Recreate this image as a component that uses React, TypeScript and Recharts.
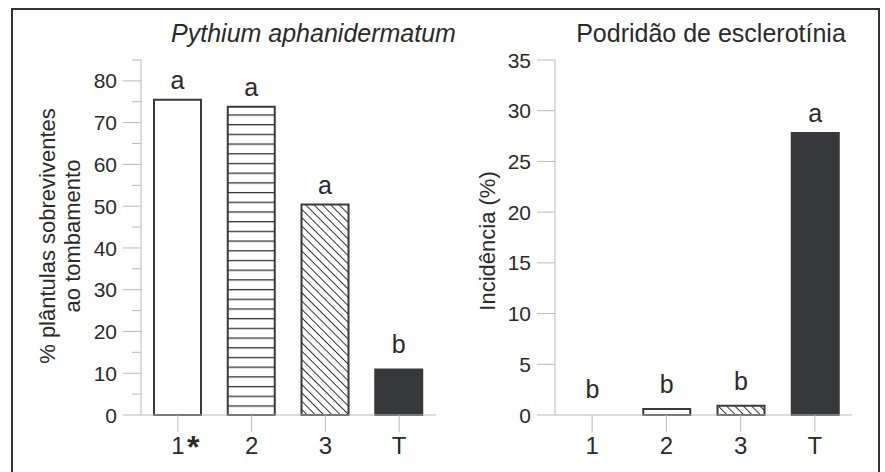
import React from 'react';
import { BarChart, Bar, XAxis, YAxis, Cell, LabelList, Label } from 'recharts';

// ---------- data ----------
const pythiumCategories = ['1*', '2', '3', 'T'];
const pythiumValues = [75.5, 73.8, 50.4, 10.9];
const pythiumLetters = ['a', 'a', 'a', 'b'];
const pythiumTicks = [0, 5, 10, 15, 20, 25, 30, 35, 40, 45, 50, 55, 60, 65, 70, 75, 80, 85];

const scleroCategories = ['1', '2', '3', 'T'];
const scleroValues = [0, 0.6, 0.9, 27.8];
const scleroLetters = ['b', 'b', 'b', 'a'];
const scleroTicks = [0, 5, 10, 15, 20, 25, 30, 35];

const pythiumData = pythiumCategories.map((c, i) => ({ cat: c, value: pythiumValues[i], letter: pythiumLetters[i] }));
const scleroData = scleroCategories.map((c, i) => ({ cat: c, value: scleroValues[i], letter: scleroLetters[i] }));

// ---------- styles ----------
const FONT = '"Liberation Sans", Arial, Helvetica, sans-serif';
const TEXT = '#2a2a2a';
const AXIS = '#b9b9b9';
const BAR_STROKE = '#3a3a3a';
const DARK = '#37383c';
const pythiumFills = ['#ffffff', 'url(#hl1)', 'url(#hatch1)', DARK];
const scleroFills = ['#ffffff', '#ffffff', 'url(#hatch2)', DARK];

const makeYTick = (axisX: number, withMinor: boolean) => (props: any) => {
  const { y, payload } = props;
  const v = payload.value;
  const major = !withMinor || v % 10 === 0;
  return (
    <g>
      <line x1={axisX - (major ? 18 : 9)} x2={axisX} y1={y} y2={y} stroke={AXIS} strokeWidth={1} />
      {major && (
        <text x={axisX - 24} y={y} dy="0.36em" textAnchor="end" fontSize={21} fill={TEXT} fontFamily={FONT}>
          {v}
        </text>
      )}
    </g>
  );
};

const XTick = (props: any) => {
  const { x, y, payload } = props;
  const label: string = String(payload.value);
  if (label.endsWith('*')) {
    return (
      <g>
        <text x={x} y={y} dy="0.71em" textAnchor="middle" fontSize={24} fill={TEXT} fontFamily={FONT}>
          {label.slice(0, -1)}
        </text>
        <text x={x + 9} y={y} dy={21} textAnchor="start" fontSize={32} fontWeight="bold" fill={TEXT} fontFamily={FONT}>
          *
        </text>
      </g>
    );
  }
  return (
    <text x={x} y={y} dy="0.71em" textAnchor="middle" fontSize={24} fill={TEXT} fontFamily={FONT}>
      {label}
    </text>
  );
};

const LetterLabel = (props: any) => {
  const { x, y, width, value } = props;
  const off = value === 'b' ? 16 : 11;
  return (
    <text x={x + width / 2} y={y - off} textAnchor="middle" fontSize={25} fill={TEXT} fontFamily={FONT}>
      {value}
    </text>
  );
};

const PythiumYLabel = () => (
  <text transform="translate(55,236) rotate(-90)" textAnchor="middle" fontSize={22} fill={TEXT} fontFamily={FONT}>
    <tspan x={0} dy={0}>% plântulas sobreviventes</tspan>
    <tspan x={0} dy={25}>ao tombamento</tspan>
  </text>
);

const ScleroYLabel = () => (
  <text transform="translate(50,241) rotate(-90)" textAnchor="middle" fontSize={22} fill={TEXT} fontFamily={FONT}>
    Incidência (%)
  </text>
);

export default function App() {
  return (
    <div style={{ position: 'absolute', left: 0, top: 0, width: 885, height: 472, background: '#fff', overflow: 'hidden' }}>
      <div
        style={{
          position: 'absolute',
          left: 11,
          top: 8,
          width: 869,
          height: 480,
          border: '2px solid #333',
          boxSizing: 'border-box',
        }}
      />
      <div style={{ position: 'absolute', left: 0, top: 0 }}>
        <BarChart width={445} height={472} data={pythiumData} margin={{ top: 60, right: 9, left: 20, bottom: 0 }}>
          <defs>
            <pattern id="hl1" patternUnits="userSpaceOnUse" width={10} height={9.7} y={8.3 - 0.65}>
              <rect x={0} y={0} width={10} height={9.7} fill="#fff" />
              <line x1={0} x2={10} y1={0.65} y2={0.65} stroke="#333" strokeWidth={1.3} />
            </pattern>
            <pattern id="hatch1" patternUnits="userSpaceOnUse" width={5.9} height={5.9} patternTransform="rotate(-45)">
              <rect x={0} y={0} width={5.9} height={5.9} fill="#fff" />
              <line x1={0.5} x2={0.5} y1={0} y2={5.9} stroke="#333" strokeWidth={1} />
            </pattern>
          </defs>
          <XAxis
            dataKey="cat"
            tickSize={17}
            tickMargin={5}
            tickLine={{ stroke: AXIS }}
            axisLine={{ stroke: AXIS }}
            tick={<XTick />}
            height={57}
            interval={0}
          />
          <XAxis xAxisId="top" dataKey="cat" orientation="top" height={0} tick={false} tickLine={false} axisLine={{ stroke: AXIS }} />
          <YAxis
            domain={[0, 85]}
            ticks={pythiumTicks}
            tickLine={false}
            axisLine={{ stroke: AXIS }}
            tick={makeYTick(141, true)}
            width={121}
            interval={0}
          >
            <Label content={<PythiumYLabel />} />
          </YAxis>
          <YAxis yAxisId="frame" orientation="right" domain={[0, 85]} tick={false} tickLine={false} width={0} axisLine={{ stroke: AXIS }} />
          <Bar dataKey="value" barSize={47} stroke={BAR_STROKE} strokeWidth={2} isAnimationActive={false}>
            {pythiumData.map((d, i) => (
              <Cell key={d.cat} fill={pythiumFills[i]} />
            ))}
          </Bar>
          <Bar xAxisId="top" dataKey="value" barSize={47} fill="none" stroke="none" minPointSize={1} isAnimationActive={false}>
            <LabelList dataKey="letter" content={<LetterLabel />} />
          </Bar>
        </BarChart>
      </div>
      <div style={{ position: 'absolute', left: 445, top: 0 }}>
        <BarChart width={440} height={472} data={scleroData} margin={{ top: 60, right: 33, left: 20, bottom: 0 }}>
          <defs>
            <pattern id="hatch2" patternUnits="userSpaceOnUse" width={5.9} height={5.9} patternTransform="rotate(-45)">
              <rect x={0} y={0} width={5.9} height={5.9} fill="#fff" />
              <line x1={0.5} x2={0.5} y1={0} y2={5.9} stroke="#333" strokeWidth={1} />
            </pattern>
          </defs>
          <XAxis
            dataKey="cat"
            tickSize={17}
            tickMargin={5}
            tickLine={{ stroke: AXIS }}
            axisLine={{ stroke: AXIS }}
            tick={<XTick />}
            height={57}
            interval={0}
          />
          <XAxis xAxisId="top" dataKey="cat" orientation="top" height={0} tick={false} tickLine={false} axisLine={{ stroke: AXIS }} />
          <YAxis
            domain={[0, 35]}
            ticks={scleroTicks}
            tickLine={false}
            axisLine={{ stroke: AXIS }}
            tick={makeYTick(110, false)}
            width={90}
            interval={0}
          >
            <Label content={<ScleroYLabel />} />
          </YAxis>
          <YAxis yAxisId="frame" orientation="right" domain={[0, 35]} tick={false} tickLine={false} width={0} axisLine={{ stroke: AXIS }} />
          <Bar dataKey="value" barSize={47} stroke={BAR_STROKE} strokeWidth={2} isAnimationActive={false}>
            {scleroData.map((d, i) => (
              <Cell key={d.cat} fill={scleroFills[i]} />
            ))}
          </Bar>
          <Bar xAxisId="top" dataKey="value" barSize={47} fill="none" stroke="none" minPointSize={1} isAnimationActive={false}>
            <LabelList dataKey="letter" content={<LetterLabel />} />
          </Bar>
        </BarChart>
      </div>
      <svg width={885} height={472} style={{ position: 'absolute', left: 0, top: 0, pointerEvents: 'none' }}>
        <text x={313.5} y={42} textAnchor="middle" fontSize={25} fontStyle="italic" fill={TEXT} fontFamily={FONT}>
          Pythium aphanidermatum
        </text>
        <text x={711} y={42} textAnchor="middle" fontSize={25} fill={TEXT} fontFamily={FONT}>
          Podridão de esclerotínia
        </text>
      </svg>
    </div>
  );
}
